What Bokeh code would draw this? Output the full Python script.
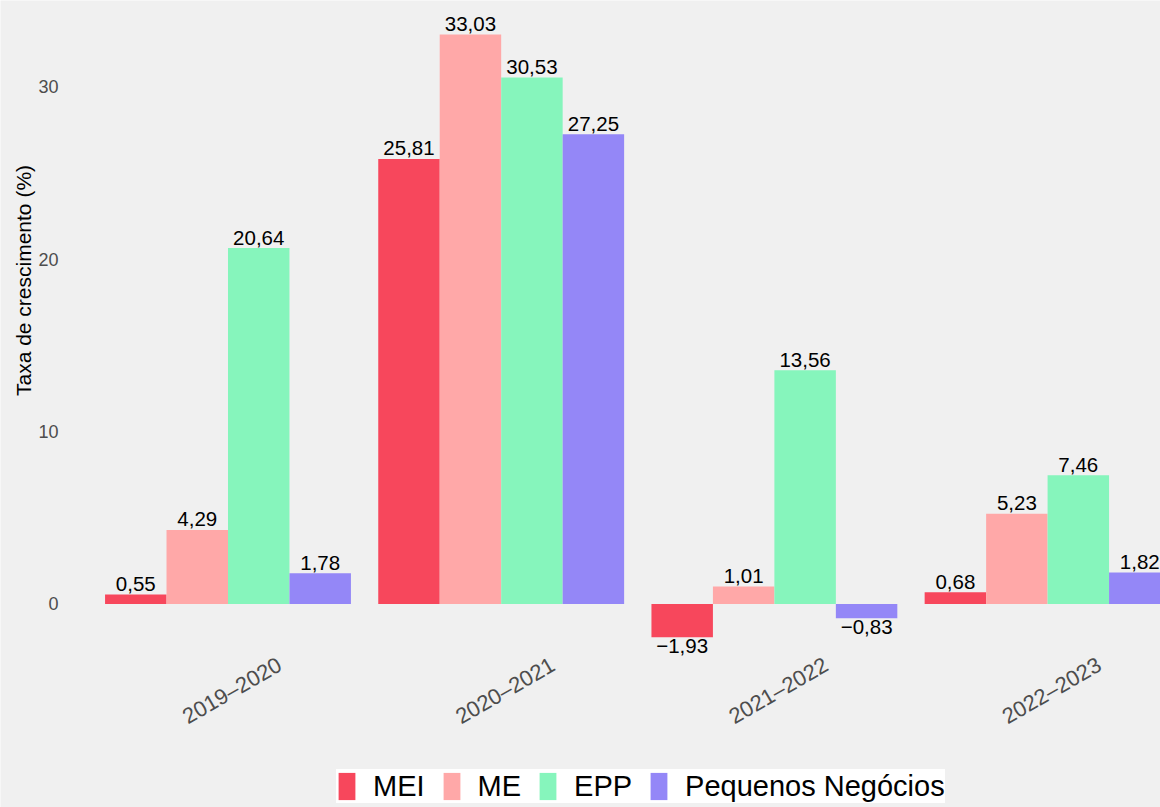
import math
from bokeh.plotting import figure
from bokeh.models import ColumnDataSource, Legend, LegendItem
from bokeh.transform import dodge
from bokeh.embed import file_html
from bokeh.resources import INLINE
from bokeh.core.properties import value

# ---- data ----
periods = ["2019–2020", "2020–2021", "2021–2022", "2022–2023"]
series_names = ["MEI", "ME", "EPP", "Pequenos Negócios"]
mei = [0.55, 25.81, -1.93, 0.68]
me = [4.29, 33.03, 1.01, 5.23]
epp = [20.64, 30.53, 13.56, 7.46]
pequenos = [1.78, 27.25, -0.83, 1.82]
series_values = [mei, me, epp, pequenos]
colors = ["#F7475C", "#FFA8A8", "#86F5BC", "#9487F7"]
y_ticks = [0, 10, 20, 30]
y_title = "Taxa de crescimento (%)"

# ---- layout (the plotting frame covers the whole canvas) ----
FONT = value("Liberation Sans")
W, H = 1160, 807
X_START, X_END = 0.1673, 4.4133
Y_START, Y_END = -11.807, 35.003
BAR_W = 0.225
BG = "#F0F0F0"


def px2x(px):
    return X_START + px / W * (X_END - X_START)


def py2y(py):
    return Y_END - py / H * (Y_END - Y_START)


p = figure(width=W, height=H, output_backend="svg", toolbar_location=None,
           x_range=(X_START, X_END), y_range=(Y_START, Y_END),
           min_border=0, min_border_left=0, min_border_right=0,
           min_border_top=0, min_border_bottom=0,
           background_fill_color=BG, border_fill_color=BG, outline_line_color=None)
p.xaxis.visible = False
p.yaxis.visible = False
p.grid.visible = False

xs = list(range(1, len(periods) + 1))


def fmt(v):
    s = f"{abs(v):.2f}".replace(".", ",")
    return ("−" + s) if v < 0 else s


items = []
n = len(series_names)
for j, (name, vals, col) in enumerate(zip(series_names, series_values, colors)):
    off = (j - (n - 1) / 2) * BAR_W
    src = ColumnDataSource(dict(x=xs, v=vals))
    r = p.vbar(x=dodge("x", off, range=p.x_range), top="v", bottom=0, width=BAR_W,
               source=src, fill_color=col, line_color=None)
    items.append(LegendItem(label=name, renderers=[r]))

    pos = ColumnDataSource(dict(x=[x for x, v in zip(xs, vals) if v >= 0],
                                v=[v for v in vals if v >= 0],
                                t=[fmt(v) for v in vals if v >= 0]))
    neg = ColumnDataSource(dict(x=[x for x, v in zip(xs, vals) if v < 0],
                                v=[v for v in vals if v < 0],
                                t=[fmt(v) for v in vals if v < 0]))
    p.text(x=dodge("x", off, range=p.x_range), y="v", text="t", source=pos,
           text_align="center", text_baseline="alphabetic", y_offset=-10.5,
           text_font=FONT, text_font_size="20.5px", text_color="#000000")
    p.text(x=dodge("x", off, range=p.x_range), y="v", text="t", source=neg,
           text_align="center", text_baseline="alphabetic", y_offset=8.5,
           text_font=FONT, text_font_size="20.5px", text_color="#000000")

# y tick labels
p.text(x=[px2x(58)] * len(y_ticks), y=y_ticks, text=[str(t) for t in y_ticks],
       text_align="right", text_baseline="middle", text_font=FONT,
       text_font_size="18px", text_color="#4D4D4D")

# category labels (rotated, centred under each group)
p.text(x=xs, y=[py2y(690)] * len(xs), text=periods, x_offset=4,
       angle=math.pi / 6, text_align="center", text_baseline="middle",
       text_font=FONT, text_font_size="22px", text_color="#4D4D4D")

# y title
p.text(x=[px2x(22.5)], y=[py2y(280)], text=[y_title], angle=math.pi / 2,
       text_align="center", text_baseline="middle", text_font=FONT,
       text_font_size="21px", text_color="#000000")

legend = Legend(items=items, location=(336, 4), orientation="horizontal",
                background_fill_color="#FFFFFF", background_fill_alpha=1.0,
                border_line_color=None, label_text_font="Liberation Sans",
                label_text_font_size="29px", label_text_color="#000000",
                glyph_width=21, glyph_height=34, label_standoff=16, spacing=16,
                padding=6, margin=0)
p.add_layout(legend)

open("out.html", "w").write(file_html(p, INLINE))
